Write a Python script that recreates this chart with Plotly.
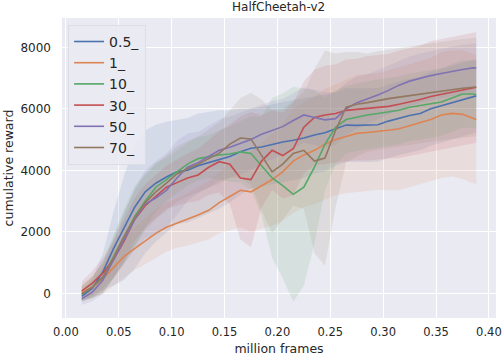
import plotly.graph_objects as go

# datos (media y desviacion por serie)
frames = [0.015, 0.025, 0.035, 0.045, 0.055, 0.065, 0.075, 0.085, 0.095, 0.105,
          0.115, 0.125, 0.135, 0.145, 0.155, 0.165, 0.175, 0.185, 0.195, 0.205,
          0.215, 0.225, 0.235, 0.245, 0.255, 0.265, 0.275, 0.285, 0.295, 0.305,
          0.315, 0.325, 0.335, 0.345, 0.355, 0.365, 0.375, 0.385, 0.388]

labels = ["0.5_", "1_", "10_", "30_", "50_", "70_"]

mean_05 = [-100, 170, 700, 1450, 2130, 2800, 3300, 3580, 3780, 3950,
           4000, 4150, 4250, 4350, 4450, 4600, 4720, 4760, 4850, 4920,
           4980, 5050, 5150, 5220, 5350, 5470, 5460, 5470, 5480, 5600,
           5700, 5780, 5850, 6000, 6100, 6200, 6300, 6400, 6420]
std_05 = [150, 300, 600, 1200, 1700, 2000, 2000, 1900, 1800, 1700,
          1700, 1700, 1650, 1600, 1500, 1400, 1300, 1300, 1300, 1300,
          1300, 1300, 1250, 1250, 1200, 1200, 1200, 1200, 1200, 1200,
          1200, 1200, 1200, 1200, 1200, 1200, 1200, 1200, 1200]

mean_1 = [30, 200, 480, 850, 1200, 1450, 1700, 1950, 2150, 2280,
          2400, 2550, 2700, 2950, 3150, 3350, 3300, 3500, 3700, 3950,
          4300, 4500, 4650, 4850, 5000, 5100, 5200, 5230, 5260, 5300,
          5350, 5450, 5550, 5650, 5800, 5850, 5820, 5680, 5650]
std_1 = [250, 350, 500, 600, 700, 700, 750, 800, 800, 800,
         850, 900, 950, 1000, 1100, 1200, 1300, 1400, 1500, 1600,
         1700, 1700, 1750, 1800, 1800, 1850, 1900, 1900, 1900, 1950,
         2000, 2000, 2000, 2000, 2050, 2050, 2100, 2100, 2100]

mean_10 = [-30, 200, 530, 1180, 1850, 2500, 3000, 3450, 3700, 3950,
           4200, 4380, 4450, 4500, 4530, 4600, 4550, 4150, 3750, 3500,
           3220, 3450, 4100, 4850, 5400, 5650, 5730, 5800, 5850, 5900,
           5950, 6050, 6100, 6150, 6220, 6350, 6480, 6480, 6460]
std_10 = [250, 350, 500, 700, 900, 1000, 900, 800, 700, 700,
          700, 700, 700, 800, 900, 1000, 1200, 1600, 2600, 3000,
          3500, 3200, 2500, 1500, 1200, 1100, 1100, 1100, 1100, 1100,
          1100, 1100, 1100, 1100, 1100, 1100, 1100, 1100, 1100]

mean_30 = [80, 330, 660, 1100, 1700, 2400, 2850, 3150, 3450, 3600,
           3750, 3850, 4100, 4280, 4200, 3750, 3700, 4300, 4650, 4480,
           4700, 5400, 5720, 5800, 5850, 5950, 5980, 6020, 6050, 6080,
           6150, 6220, 6300, 6400, 6470, 6550, 6620, 6680, 6700]
std_30 = [300, 400, 500, 600, 700, 700, 700, 700, 700, 750,
          800, 850, 900, 1000, 1300, 2000, 2200, 1500, 1300, 1400,
          1500, 1500, 1550, 1600, 1600, 1650, 1650, 1700, 1700, 1700,
          1750, 1750, 1750, 1800, 1800, 1800, 1800, 1800, 1800]

mean_50 = [-180, 40, 430, 1100, 1750, 2400, 2900, 3100, 3350, 3750,
           4100, 4250, 4450, 4650, 4750, 4880, 5000, 5170, 5300, 5420,
           5620, 5800, 5720, 5640, 5680, 6000, 6200, 6320, 6450, 6600,
           6770, 6900, 7000, 7080, 7150, 7220, 7280, 7330, 7330]
std_50 = [200, 300, 450, 600, 800, 1000, 1100, 1200, 1200, 1200,
          1100, 1000, 1000, 1000, 1000, 1000, 1000, 950, 950, 900,
          900, 900, 900, 900, 850, 850, 850, 800, 800, 800,
          800, 800, 800, 800, 800, 800, 800, 800, 800]

mean_70 = [-20, 200, 530, 1150, 1850, 2450, 2950, 3300, 3580, 3880,
           4050, 4200, 4380, 4560, 4850, 5050, 5020, 4500, 3950, 4200,
           4550, 4650, 4300, 4400, 5300, 6050, 6150, 6200, 6270, 6330,
           6380, 6430, 6480, 6530, 6580, 6630, 6670, 6700, 6710]
std_70 = [250, 350, 500, 650, 800, 900, 900, 900, 900, 900,
          900, 900, 950, 1000, 1100, 1300, 1500, 1800, 2000, 1800,
          1700, 1900, 3000, 3500, 2500, 1800, 1700, 1600, 1600, 1600,
          1600, 1600, 1600, 1600, 1600, 1600, 1600, 1600, 1600]

means = [mean_05, mean_1, mean_10, mean_30, mean_50, mean_70]
stds = [std_05, std_1, std_10, std_30, std_50, std_70]
colors = ["#4C72B0", "#DD8452", "#55A868", "#C44E52", "#8172B3", "#937860"]
fills = ["rgba(76,114,176,0.13)", "rgba(221,132,82,0.13)", "rgba(85,168,104,0.13)",
         "rgba(196,78,82,0.13)", "rgba(129,114,179,0.13)", "rgba(147,120,96,0.13)"]

fig = go.Figure()

# bandas
for m, s, fc in zip(means, stds, fills):
    up = [a + b for a, b in zip(m, s)]
    lo = [a - b for a, b in zip(m, s)]
    fig.add_trace(go.Scatter(
        x=frames + frames[::-1], y=up + lo[::-1],
        fill='toself', fillcolor=fc, line=dict(width=0),
        hoverinfo='skip', showlegend=False))

# lineas
for m, c, lab in zip(means, colors, labels):
    fig.add_trace(go.Scatter(x=frames, y=m, mode='lines', name=lab,
                             line=dict(color=c, width=1.6)))

fig.update_layout(
    width=502, height=356,
    margin=dict(l=62, r=6, t=18, b=38, autoexpand=False),
    paper_bgcolor='white', plot_bgcolor='#EAEAF2',
    font=dict(family='DejaVu Sans', color='#262626', size=11.5),
    title=dict(text='HalfCheetah-v2', x=0.555, xanchor='center', y=0.98, yanchor='middle',
               font=dict(size=12)),
    legend=dict(x=0.014, y=0.977, xanchor='left', yanchor='top',
                bgcolor='rgba(234,234,242,0.85)', bordercolor='#DDDDE6', borderwidth=1,
                font=dict(size=14), tracegroupgap=0),
)
fig.update_xaxes(range=[-0.0037, 0.4067], tickvals=[0, 0.05, 0.1, 0.15, 0.2, 0.25, 0.3, 0.35, 0.4],
                 tickformat='.2f', showgrid=True, gridcolor='white', gridwidth=1, zeroline=False,
                 showline=False, ticks='', ticklabelstandoff=5, automargin=False,
                 title=dict(text='million frames', standoff=6, font=dict(size=12.5)))
fig.update_yaxes(range=[-803, 8953], tickvals=[0, 2000, 4000, 6000, 8000], tickformat='d',
                 showgrid=True, gridcolor='white', gridwidth=1, zeroline=False,
                 showline=False, ticks='', ticklabelstandoff=10, automargin=False,
                 tickfont=dict(size=12),
                 title=dict(text='cumulative reward', standoff=4, font=dict(size=12.5)))

# quitar el margen del body para que la figura ocupe la ventana
fig.write_html("out.html", config={'displayModeBar': False},
               post_script="document.body.style.margin='0';")
